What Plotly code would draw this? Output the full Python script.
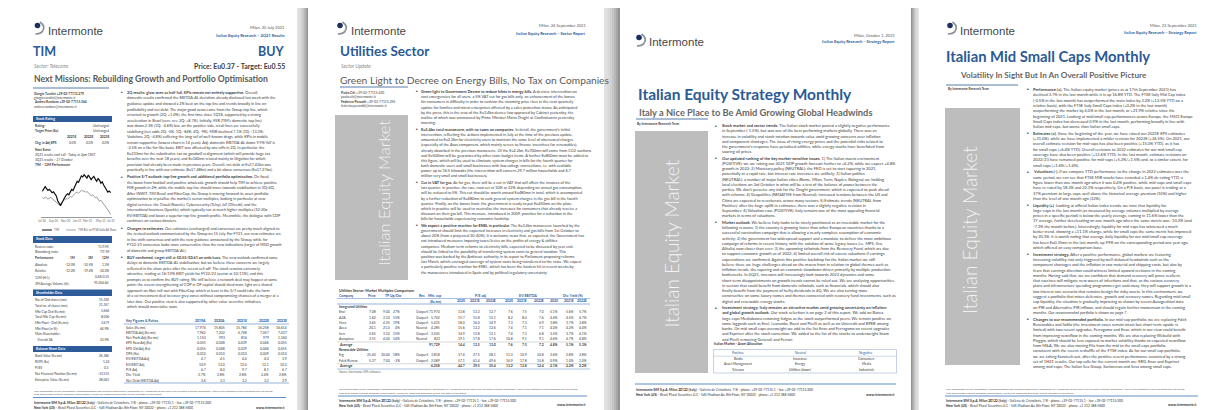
import plotly.graph_objects as go

W, H = 1215, 410
BG = "#e2e2e2"
BLUE = "#2b5a96"
DARK = "#3a3a3a"
SIDEBAR = "#bdbdbd"
HEAD = "Lato, 'Open Sans', sans-serif"
BODY = "Lato, 'Liberation Sans', sans-serif"
LOGO = "'Liberation Sans', Arial, sans-serif"

# ---------------- data: page 1 (TIM) ----------------
perf_weeks = list(range(50))
tim_price = [0.395, 0.405, 0.412, 0.405, 0.398, 0.402, 0.396, 0.390, 0.393, 0.385,
             0.378, 0.360, 0.350, 0.342, 0.352, 0.365, 0.372, 0.380, 0.386, 0.382,
             0.395, 0.402, 0.398, 0.410, 0.420, 0.432, 0.428, 0.440, 0.452, 0.448,
             0.456, 0.450, 0.444, 0.455, 0.448, 0.438, 0.445, 0.450, 0.440, 0.432,
             0.442, 0.436, 0.425, 0.430, 0.418, 0.410, 0.402, 0.392, 0.396, 0.390]
tim_rel = [0.372, 0.368, 0.374, 0.370, 0.366, 0.370, 0.372, 0.368, 0.364, 0.360,
           0.356, 0.350, 0.346, 0.350, 0.356, 0.360, 0.364, 0.368, 0.366, 0.370,
           0.376, 0.374, 0.378, 0.384, 0.390, 0.392, 0.388, 0.394, 0.398, 0.396,
           0.396, 0.392, 0.394, 0.390, 0.384, 0.378, 0.382, 0.378, 0.372, 0.374,
           0.364, 0.358, 0.362, 0.356, 0.350, 0.342, 0.334, 0.326, 0.318, 0.310]
perf_tick_pos = [0, 8, 17, 25, 33, 42, 49]
perf_tick_labels = ["Jul-20", "Sep-20", "Nov-20", "Jan-21", "Mar-21", "May-21", "Jul-21"]
perf_legend = ["TIM", "TIM Rel. to FTSE Italia All Share"]

stock_rating = [("Rating:", "Unchanged"), ("Target Price (Eu):", "Unchanged")]
eps_years = ["2021E", "2022E", "2023E"]
eps_chg = ["0.0%", "0.0%", "0.0%"]
stock_codes = [("Reuters code:", "TLIT.MI"), ("Bloomberg code:", "TIT IM")]
perf_cols = ["1M", "3M", "12M"]
perf_rows = [("Absolute", ["-12.0%", "-10.5%", "1.3%"]),
             ("Relative", ["-12.0%", "-19.4%", "-24.0%"])]
stock_misc = [("12M (H/L)", "0.48/0.35"), ("3M Average Volume (th):", "95,054.60")]
shareholder = [("No. of Ord shares (mn):", "15,330"), ("Total no. of shares (mn):", "21,357"),
               ("Mkt Cap Ord (Eu mn):", "5,666"), ("Total Mkt Cap (Eu mn):", "8,006"),
               ("Mkt Float - Ord (Eu mn):", "3,679"), ("Mkt Float (in %):", "64.9%"),
               ("Main Shareholder:", ""), ("   Vivendi SA", "23.9%")]
balance = [("Book Value (Eu mn)", "26,386"), ("BVPS (Eu)", "1.24"), ("P/BV", "0.3"),
           ("Net Financial Position (Eu mn)", "-23,515"), ("Enterprise Value (Eu mn)", "28,063")]
kf_years = ["2019A", "2020A", "2021E", "2022E", "2023E"]
kf_rows = [("Sales (Eu mn)", ["17,974", "15,805", "15,784", "16,258", "16,614"]),
           ("EBITDA Adj (Eu mn)", ["7,962", "7,202", "6,748", "7,057", "7,437"]),
           ("Net Profit Adj (Eu mn)", ["1,150", "993", "816", "979", "1,160"]),
           ("EPS New Adj (Eu)", ["0.055", "0.048", "0.039", "0.046", "0.055"]),
           ("EPS Old Adj (Eu)", ["0.055", "0.048", "0.039", "0.046", "0.055"]),
           ("DPS (Eu)", ["0.010", "0.010", "0.010", "0.009", "0.010"]),
           ("EV/EBITDA Adj", ["4.7", "4.5", "4.4", "4.0", "3.9"]),
           ("EV/EBIT Adj", ["10.9", "13.0", "12.0", "12.1", "10.2"]),
           ("P/E Adj", ["6.7", "8.0", "9.7", "8.1", "6.7"]),
           ("Div. Yield", ["2.7%", "2.8%", "2.8%", "2.4%", "2.8%"]),
           ("Net Debt/EBITDA Adj", ["3.6", "3.3", "3.2", "3.2", "2.9"])]

# ---------------- data: page 2 (Utilities) ----------------
util_years = ["2020", "2021E", "2022E"]
util_integrated = [
    ["Enel", "7.08", "9.00", "27%", "Outperf.", "71,970", "13.8", "13.3", "12.7", "7.6", "7.5", "7.0", "5.1%", "5.6%", "5.7%"],
    ["A2A", "1.82", "2.10", "15%", "Outperf.", "5,702", "15.7", "15.8", "15.1", "8.2", "8.0", "7.6", "4.4%", "4.5%", "4.7%"],
    ["Hera", "3.65", "4.35", "19%", "Outperf.", "5,435", "18.0", "16.0", "14.9", "7.3", "7.3", "6.9", "3.8%", "3.7%", "3.8%"],
    ["Acea", "20.1", "21.0", "4%", "Neutral", "4,285", "15.6", "13.2", "12.6", "7.4", "7.1", "7.1", "4.0%", "4.2%", "4.4%"],
    ["Iren", "2.65", "3.10", "15%", "Outperf.", "3,505", "14.9", "13.8", "12.1", "7.4", "7.3", "6.8", "3.5%", "3.7%", "4.1%"],
    ["Ascopiave", "3.51", "4.00", "14%", "Neutral", "823", "19.1", "17.8", "17.6", "10.8", "9.1", "9.1", "4.6%", "4.7%", "4.8%"],
]
util_int_avg = ["Average", "", "", "", "", "91,729", "14.4", "13.5", "13.0", "7.6", "7.5", "7.2", "4.8%", "5.1%", "5.3%"]
util_renew = [
    ["Erg", "25.40", "30.00", "18%", "Outperf.", "3,818", "37.4", "27.5", "28.1", "11.3", "10.9", "10.8", "2.6%", "2.8%", "2.8%"],
    ["Falck Renew.", "5.37", "7.00", "-2%", "Outperf.", "2,089", "57.1", "61.4", "49.6", "16.9", "17.8", "15.8", "0.9%", "1.0%", "1.0%"],
]
util_ren_avg = ["Average", "", "", "", "", "6,258", "44.7", "39.5", "35.4", "13.2", "13.8", "12.4", "2.1%", "2.2%", "2.2%"]

# ---------------- data: page 3 (Strategy) ----------------
alloc_heads = ["Positive", "Neutral", "Negative"]
alloc_rows = [("Banks", "Insurance", "Consumers"),
              ("Asset Management", "Energy", "Media"),
              ("Telecom", "Utilities (down)", "Industrials")]

# ---------------- body texts ----------------
p1_paras = [
    ("2Q results: glass seen as half-full, KPIs remain not entirely supportive.",
     "Overall, domestic results confirmed the EBITDA-AL deviation already disclosed last week with the guidance update and showed a 2% beat on the top line and trends broadly in line on profitability and net debt. The major good news came from the Group top line, which returned to growth (2Q: +1.0%), the first time since 1Q18, supported by a strong acceleration in Brazil (serv. rev. 2Q: +8.7%). Initially, FSR (TIM's domestic top line) was down 2.3% (1Q: -4.6%) but, on the positive side, retail lines are successfully stabilising (net adds 2Q: -5K; 1Q: -84K; 4Q: -9K). MSR declined 7.1% (1Q: -13.3%; Vodafone 2Q: -4.8%) suffering the long tail of well-known drags, while KPIs in mobile remain supportive (lowest churn in 14 years). Adj. domestic EBITDA-AL down 9.9% YoY is -2.5% on a like-for-like basis. EBIT was affected by one-offs in 2Q. In particular, the Eu233mn for the substitutive tax on goodwill realignment (which will provide huge tax benefits over the next 18 years), and Eu140mn related mainly to litigation for which provision had already been made in previous years. Overall, net debt at Eu17.42bn was practically in line with our estimate (Eu17.48bn) and a bit above consensus (Eu17.27bn)."),
    ("Positive S/T outlook: top-line growth and additional portfolio optimisation.",
     "On fixed, the boost from football and positive wholesale growth should help TIM to achieve positive FSR growth in 2H, while the mobile top line should move towards stabilisation in 3Q/4Q. After INWIT, TIM Brasil and FiberCop, the Group is moving forward its asset portfolio optimisation to crystallise the market's sector multiples, looking in particular at new digital services: the Cloud (Noovle), Cybersecurity (Telsy), IoT (Olivetti), and the international business (Sparkle), which typically run at much higher multiples (10-20x EV/EBITDA) and boast a superior top-line growth profile. Meanwhile, the dialogue with CDP continues on various dossiers."),
    ("Changes to estimates.",
     "Our estimates (unchanged) and consensus are pretty much aligned to the revised outlook communicated by the Group on 15 July. For FY21, our new estimates are in line with consensus and with the new guidance announced by the Group, while for FY22-23 consensus looks more conservative than the new indications (target of MSD growth of domestic and group EBITDA-AL)."),
    ("BUY confirmed, target still at €0.55/€0.61 on ords/savs.",
     "The new outlook confirmed some delays to domestic EBITDA-AL stabilisation, but we believe these concerns are largely reflected in the share price after the recent sell-off. The stock remains extremely attractive, trading at 16/19% EBIT yields for FY22/23 (sector at 10/11%), and this prompts us to confirm the BUY rating. We still believe a network deal may happen at some point: the recent strengthening of CDP in OF capital should shed more light on a shared approach on fibre roll-out with FiberCop, which at least in the S/T could take the form of a co-investment deal to cover grey zones without compromising chances of a merger at a later date. Our positive view is also supported by other value-accretive initiatives which should materialise soon."),
]
p2_paras = [
    ("Green light to Government Decree to reduce hikes in energy bills.",
     "A decisive intervention on cost emergencies for all users, a 5% VAT cut for gas bills only, an enhancement of the bonus for consumers in difficulty in order to cushion the incoming price rises in the next quarterly update for families and micro-enterprises affected by a sales protection status. As anticipated by the press, this is the crux of the Eu3.4bn decree-law approved by Cabinet yesterday, the outline of which was announced by Prime Minister Mario Draghi at Confindustria yesterday morning."),
    ("Eu3.4bn total manoeuvre, with no taxes on companies.",
     "In detail, the government's initial intervention, reflecting the actions implemented in July at the time of the previous update, amounted to Eu2.2bn for electricity users to maintain the same level of attenuated charges (especially of the Asos component, which mainly serves to finance incentives for renewables), already absorbed in the previous manoeuvre. Of the Eu2.2bn, Eu700mn will come from CO2 auctions and Eu500mn will be guaranteed by other state budget items. A further Eu800mn must be added to this figure, which will be used to eliminate system charges in bills for the fourth quarter for both domestic users and small businesses with low voltage connections, i.e. with available power up to 16.5 kilowatts (the intervention will concern 29.7 million households and 6.7 million very small and small businesses)."),
    ("Cut in VAT for gas.",
     "As for gas, there will be a cut in VAT that will affect the invoices of the last quarter: in practice, the rate, now set at 10% or 22% depending on annual gas consumption, will be reduced to 5%. This cut should be worth around Eu480mn in total, which is accompanied by a further reduction of Eu480mn to curb general system charges in the gas bill in the fourth quarter. Finally, on the bonus front, the government is ready to put Eu450mn on the plate, which in practice will be used to neutralise the increases for consumers that already receive a discount on their gas bill. This measure, introduced in 2009, provides for a reduction in the bills for households experiencing economic hardship."),
    ("We expect a positive reaction for ENEL in particular.",
     "The Eu3.4bn manoeuvre launched by the government should limit the expected increases in electricity and gas bills from 1st October to about 20% (from a projected 30-40%). It is welcome news that, as expected, the Government has not introduced measures imposing taxes/levies on the profits of energy &amp; utilities companies. Medium-term reforms to electricity bills, expected to be discussed by year end, should be linked to the possibility of transferring system costs to general taxation. This position was backed by the Antitrust authority in its report to Parliament proposing reforms last March, which envisaged coverage of system costs being transferred to the state. We expect a particularly positive reaction for ENEL, which has been the hardest hit in recent weeks by the manoeuvres introduced in Spain and by political/regulatory uncertainty."),
]
p3_paras = [
    ("Stock market and sector trends.",
     "The Italian stock market posted a slightly negative performance in September (-1.5%), but was one of the best performing markets globally. There was an increase in volatility and stock rotation towards value amid growing concerns over inflation and component shortages. The issue of rising energy prices and the potential risks related to the government's response have penalised utilities, while energy stocks have benefitted from soaring oil prices."),
    ("Our updated ranking of the key market-sensitive issues.",
     "1) The Italian macro environment (POSITIVE): we are raising our 2021 GDP growth forecast further to +6.2%, while we expect +4.8% growth in 2022; 2) Monetary policy (NEUTRAL): the FED is set to start tapering in 2021, potentially at a rapid rate, but interest rate increases are unlikely; 3) Italian politics (NEUTRAL): a number of major Italian cities (Rome, Milan, Turin, Naples, Bologna) are holding local elections on 3rd October in what will be a test of the balance of power between the parties. We don't perceive any risk for the Draghi government, which is expected to push ahead with reforms; 4) Geopolitics (NEGATIVE from Neutral): increased tensions between the US and China are expected to reverberate across many sectors; 5) Estimate trends (NEUTRAL from Positive): after the huge uplift in estimates, there was a slightly negative revision in September; 6) Valuation case (POSITIVE): Italy remains one of the most appealing financial markets in terms of valuations."),
    ("Market outlook.",
     "We believe Italy looks to be nicely positioned as an investable market for the following reasons: 1) the country is growing faster than other European countries thanks to a successful vaccination campaign that is allowing a nearly complete resumption of economic activity; 2) the government has widespread support and a mandate to deliver the most ambitious campaign of reforms in recent history, with the solution of some legacy issues (i.e. MPS, Ilva, Alitalia) now closer than ever; 3) the upcoming tailwinds from the Recovery Fund, which are due to support economic growth as of 2022; 4) limited overall risk of excess valuations if earnings expectations are confirmed. Against this positive backdrop for the Italian market we still believe there are huge challenges ahead on the macro front in relation to global themes such as inflation trends, the tapering and an economic slowdown driven primarily by multiple production bottlenecks. In 4Q21, investors will increasingly look towards 2022 dynamics and some short-term disappointments on growth trends cannot be ruled out. We are analysing opportunities in sectors that could benefit from domestic tailwinds, such as financials, which should also finally benefit from the payment of hefty dividends in 4Q. We are also turning more constructive on some luxury names and themes connected with recovery fund investments, such as digital and renewable energy stocks."),
    ("Investment strategy: Italy remains an attractive market amid growing uncertainty on inflation and global growth outlook.",
     "Our stock selection is on page 2 of this report. We add on Banca large caps Mediobanca removing Italgas as the stock outperformed peers. We remain positive on some laggards such as Enel, Leonardo, Buzzi and Pirelli as well as on Unicredit and BPER among banks. On mid small caps overweight we add to the list Enav and Ferragamo on recent upgrades and Esprinet after the stock correction. We added to the list of the stocks to underweight Snam and Pirelli removing Generali and Ferrari."),
]
p4_paras = [
    ("Performance (=).",
     "The Italian equity market (prices as at 17th September 2021) has declined 3.7% in the last month while it is up 16.8% YTD. The FTSE Italy Mid Cap index (-0.5% in the last month) has outperformed the main index by 3.2% (+12.5% YTD on a relative basis), with the FTSE Italy Small Caps index (+0.2% in the last month) outperforming the market by 4.0% in the last month, or +21.9% relative since the beginning of 2021. Looking at mid/small cap performances across Europe, the MSCI Europe Small Caps index has decreased 0.9% in the last month, performing broadly in line with Italian mid-caps, but worse than Italian small caps."),
    ("Estimates (=).",
     "Since the beginning of the year, we have raised our 2021E EPS estimates (+31.0%), while we have implemented a milder revision for 2022E (+26.5%). On 2021, our overall estimate revision for mid-caps has also been positive (+15.0% YTD), as it has for small caps (+6.4% YTD). Overall revisions to 2022 estimates for our mid/small cap coverage have also been positive (+12.6% YTD). In the last month, estimate revisions on 2022/23 have remained positive for mid-caps (+5.2%/+1.5%) and, to a similar extent, for small caps (+1.6%/+1.4%)."),
    ("Valuations (-).",
     "If we compare YTD performance to the change in 2022 estimates over the same period, we can see that FTSE MIB stocks have recorded a 1.4% de-rating YTD, a figure lower than one month ago when it was 0.4% positive, while mid-caps and small caps have re-rated by 18.3% and 22.3% respectively. On a P/E basis, our panel is trading at a 37% premium to large caps, well above the historical average premium (10%) and higher than the level of one month ago (32%)."),
    ("Liquidity (+).",
     "Looking at official Italian index trends, we note that liquidity for large-caps in the last month (as measured by average volumes multiplied by average prices in a specific period) is below the yearly average, coming in 11.6% lower than the 1Y average, further decelerating on one month ago when the same metric was -10.2% (and -7.3% the month before). Interestingly, liquidity for mid-caps has witnessed a much better trend, showing a +11.1% change, while for small caps the same metric has improved by 20.3%. It is worth noting that average daily liquidity for our mid/small cap coverage has been Eu0.35mn in the last month, up 99% on the corresponding period one year ago, which offered an easy comparison base."),
    ("Investment strategy.",
     "After a positive performance, global markets are featuring increasing volatility, not only triggered by well-debated headwinds such as the component shortages and the inflation in raw material and shipping costs, but also by fears that earnings direction could witness limited upward revisions in the coming months. Having said that, we are confident that demand recovery will prove resilient, that vaccines will mitigate new waves of infections and that, as the various recovery plans and infrastructure spending programmes get underway, they will support growth in a low interest rate scenario that remains benign for risky assets. In this environment, we suggest a portfolio that mixes defensive, growth and recovery names. Regarding mid/small cap liquidity, the situation is gradually improving as shown by recent Assogestioni data on PIR and Alternative PIR inflows, and should regain further momentum in the coming months. <i>Our recommended portfolio is shown on page 7.</i>"),
    ("Changes to our recommended portfolio.",
     "In our mid-cap portfolio, we are replacing Falck Renewables and Safilo (the investment cases remain intact but short-term upside is limited) with two recent upgrades, Ferragamo and Enav, which in our view could benefit from improving newsflow in the coming months. We are also replacing Webuild with Piaggio, which should be less exposed to market volatility thanks to expected newsflow from M&amp;A. We are also moving Fila from the mid to the small caps portfolio, consistent with the recent reshuffle of the FTSE index. As for our small cap portfolio, we are taking Eurotech out, after the positive recent performance sustained by a strong set of 1H21 results. Our top calls for the current month are: ERG, Enav and Esprinet among mid-caps; The Italian Sea Group, Sanlorenzo and Sesa among small caps."),
]

footer1 = "<b>Intermonte SIM S.p.A. Milan 20122 (Italy)</b> - Galleria de Cristoforis, 7/8 - phone: +39-02-77115.1 - fax: +39-02-77115.300"
footer2 = "<b>New York (US)</b> - Brasil Plural Securities LLC - 545 Madison Av. 8th Floor, NY 10022 - phone: +1 212 388 5600"
disclaimer1 = "The reproduction of the information, recommendations and research produced by Intermonte SIM contained herein and of any its parts is strictly prohibited. None of the contents of this document may be shared"
disclaimer2 = "with third parties without Company authorisation. Please see important disclaimer on the last page of this report"

# ---------------- helpers (page layout in pixels -> paper) ----------------
shapes, annos = [], []


def px(x):
    return x / W


def py(y):
    return 1 - y / H


ANCH = {"right": "left", "left": "right", "center": "center"}


def txt(x, y, s, size=4.0, color=DARK, pos="right", fam=BODY):
    annos.append(dict(xref="paper", yref="paper", x=px(x), y=py(y), text=s, showarrow=False,
                      xanchor=ANCH[pos], yanchor="middle", borderpad=0,
                      font=dict(size=size, color=color, family=fam)))


def rect(x0, y0, x1, y1, fill, line=None, lw=0):
    shapes.append(dict(type="rect", xref="paper", yref="paper", x0=px(x0), y0=py(y0), x1=px(x1), y1=py(y1),
                       fillcolor=fill, line=dict(color=line or fill, width=lw), layer="below"))


def hline(x0, x1, y, color=BLUE, w=0.8):
    shapes.append(dict(type="line", xref="paper", yref="paper", x0=px(x0), x1=px(x1), y0=py(y), y1=py(y),
                       line=dict(color=color, width=w), layer="below"))


def wrap(bold, rest, width):
    words = [(w, 1) for w in bold.split()] + [(w, 0) for w in rest.split()]
    lines, cur, n = [], [], 0
    for w, b in words:
        add = len(w) + (1 if cur else 0)
        if cur and n + add > width:
            lines.append(cur)
            cur, n, add = [], 0, len(w)
        cur.append((w, b))
        n += add
    if cur:
        lines.append(cur)
    out = []
    for ln in lines:
        s, i = "", 0
        while i < len(ln):
            j = i
            while j < len(ln) and ln[j][1] == ln[i][1]:
                j += 1
            chunk = " ".join(w for w, _ in ln[i:j])
            s += (" " if s else "") + (f"<b>{chunk}</b>" if ln[i][1] else chunk)
            i = j
        out.append(s)
    return out


def fix_italic(lines):
    out, open_i = [], False
    for ln in lines:
        s = ("<i>" if open_i else "") + ln
        if s.count("<i>") > s.count("</i>"):
            s += "</i>"
            open_i = True
        else:
            open_i = False
        out.append(s)
    return out


def body(paras, xb, xt, y0, width, ls, gap, size):
    y = y0
    for bold, rest in paras:
        txt(xb, y, "■", size=size * 0.7, color="#4a4a4a")
        for ln in fix_italic(wrap(bold, rest, width)):
            txt(xt, y, ln, size=size)
            y += ls
        y += gap
    return y


def logo(cx, cy, tx, ty):
    shapes.append(dict(type="circle", xref="paper", yref="paper", x0=px(cx - 2.8), x1=px(cx + 2.8),
                       y0=py(cy + 2.8), y1=py(cy - 2.8), fillcolor="#1c2f5e", line=dict(width=0), layer="below"))
    pts = [(cx + 2.5, cy - 3.6), (cx + 9, cy + 1), (cx + 4.5, cy + 6.5), (cx + 1.5, cy + 9), (cx - 2, cy + 8.3)]
    q = [f"{px(a):.6f},{py(b):.6f}" for a, b in pts]
    shapes.append(dict(type="path", xref="paper", yref="paper",
                       path=f"M {q[0]} Q {q[1]} {q[2]} Q {q[3]} {q[4]}",
                       line=dict(color="#8d939c", width=1.8), layer="below"))
    txt(tx, ty, "Intermonte", size=11.5, color="#474747", fam=LOGO)


def header(xr, y1, y2, date, kind):
    txt(xr, y1, date, size=4.0, color="#555555", pos="left")
    txt(xr, y2, f"<b>Italian Equity Research – {kind}</b>", size=4.0, color=BLUE, pos="left")


def footer(x0, x1, yline, ya, yb, disc=True):
    if disc:
        txt(x0, yline - 7, disclaimer1, size=2.6, color="#555555")
        txt(x0, yline - 3.4, disclaimer2, size=2.6, color="#555555")
    hline(x0, x1, yline, color="#4f81bd", w=0.9)
    txt(x0, ya, footer1, size=3.3, color="#333333")
    txt(x0, yb, footer2, size=3.3, color="#333333")
    txt(x1, yb, "<b>www.intermonte.it</b>", size=3.4, color="#333333", pos="left")


def sidebar(x0, x1, y0, y1, size, yc):
    rect(x0, y0, x1, y1, SIDEBAR)
    annos.append(dict(xref="paper", yref="paper", x=px((x0 + x1) / 2), y=py(yc),
                      text="Italian Equity Market", textangle=-90, showarrow=False,
                      font=dict(family=HEAD, size=size, color="rgba(255,255,255,0.82)", weight=300)))


# ---------------- background, pages, shadows ----------------
pages = [(0, 289), (300, 596), (612, 903), (911, 1207)]
gaps = [(289, 300, "right"), (596, 612, "right"), (903, 911, "left"), (1207, 1215, "left")]
for g0, g1, dark_side in gaps:
    n = 8
    step = (g1 - g0) / n
    for k in range(n):
        t = (k + 0.5) / n
        d = t if dark_side == "right" else 1 - t
        c = int(226 - 90 * d ** 2)
        rect(g0 + k * step, 0, g0 + (k + 1) * step + 0.2, H, f"rgb({c},{c},{c})")
for p0, p1 in pages:
    rect(p0, 0, p1, H, "#ffffff")

# ================= PAGE 1 : TIM =================
logo(29.5, 17.5, 39, 22.5)
header(278, 19, 27, "Milan, 20 July 2021", "2Q21 Results")
txt(24, 44, "<b>TIM</b>", size=12.5, color=BLUE, fam=HEAD)
txt(278, 44, "<b>BUY</b>", size=12.5, color=BLUE, pos="left", fam=HEAD)
txt(25, 58, "<i>Sector: Telecoms</i>", size=5, color="#8a8a8a", fam=HEAD)
txt(278, 58, "<b>Price: Eu0.37 - Target: Eu0.55</b>", size=7, color="#404040", pos="left", fam=HEAD)
txt(25, 71, "<b>Next Missions: Rebuilding Growth and Portfolio Optimisation</b>", size=8.6, color="#5a5a5a", fam=HEAD)
hline(25, 101, 80)
for i, s in enumerate(["<b>Giorgio Tavolini +39-02-77115.279</b>", "giorgio.tavolini@intermonte.it",
                       "<b>Andrea Randone +39-02-77115.364</b>", "andrea.randone@intermonte.it"]):
    txt(25, 86 + 4.2 * i, s, size=3.2, color="#404040")

SM = 3.2
L0, R0 = 26, 102


def bar(y0, y1, title):
    rect(25, y0, 104, y1, "#2e5c9a")
    txt(26.5, (y0 + y1) / 2, f"<b>{title}</b>", size=3.4, color="#ffffff")


bar(108, 114, "Stock Rating")
for i, (k, v) in enumerate(stock_rating):
    txt(L0, 117.5 + 5 * i, f"<b>{k}</b>", size=SM)
    txt(R0, 117.5 + 5 * i, v, size=SM, pos="left")
for j, yr in enumerate(eps_years):
    txt([69, 86, 102][j], 129, f"<b>{yr}</b>", size=SM, pos="left")
    txt([69, 86, 102][j], 134.5, eps_chg[j], size=SM, pos="left")
txt(L0, 134.5, "<b>Chg. in Adj EPS</b>", size=SM)
txt(L0, 142, "<b>Next Event</b>", size=SM)
txt(L0, 147, "2Q21 results conf call - Today at 2pm CEST", size=SM)
txt(L0, 152, "3Q21 results – 27 October", size=SM)
txt(L0, 157, "<b>TIM – 12M Performance</b>", size=SM)

# legend of the small chart
hline(34, 44, 222, color="#111111", w=1)
txt(45, 222, perf_legend[0], size=2.8, color="#555555")
hline(58, 68, 222, color="#a6a6a6", w=1)
txt(69, 222, perf_legend[1], size=2.8, color="#555555")

bar(228, 235, "Stock Data")
for (k, v), y in zip(stock_codes, [239, 244]):
    txt(L0, y, k, size=SM)
    txt(R0, y, v, size=SM, pos="left")
txt(L0, 250, "<b>Performance</b>", size=SM)
for j, c in enumerate(perf_cols):
    txt([68, 86, 102][j], 250, f"<b>{c}</b>", size=SM, pos="left")
for (k, vals), y in zip(perf_rows, [257, 263]):
    txt(L0, y, k, size=SM)
    for j, v in enumerate(vals):
        txt([68, 86, 102][j], y, v, size=SM, pos="left")
for (k, v), y in zip(stock_misc, [269, 275]):
    txt(L0, y, k, size=SM)
    txt(R0, y, v, size=SM, pos="left")
bar(281.5, 288, "Shareholder Data")
for i, (k, v) in enumerate(shareholder):
    y = 291.5 + 5.8 * i
    txt(L0, y, k, size=SM)
    txt(R0, y, v, size=SM, pos="left")
bar(338, 344, "Balance Sheet Data")
for i, (k, v) in enumerate(balance):
    y = 347.5 + 6.1 * i
    txt(L0, y, k, size=SM)
    txt(R0, y, v, size=SM, pos="left")

body(p1_paras, 112, 117.5, 84.5, 89, 5.5, 1.8, 3.8)

# key figures table
kx = [199, 218, 240, 262, 280]
txt(117, 313, "<b>Key Figures &amp; Ratios</b>", size=3.5, color=BLUE)
for j, yv in enumerate(kf_years):
    txt(kx[j], 313, f"<b>{yv}</b>", size=3.5, color=BLUE, pos="left")
hline(116, 281, 316, color="#4f81bd", w=0.6)
for i, (k, vals) in enumerate(kf_rows):
    y = 319.5 + 5.3 * i
    txt(117, y, k, size=3.4)
    for j, v in enumerate(vals):
        txt(kx[j], y, v, size=3.4, pos="left")
hline(116, 281, 375, color="#4f81bd", w=0.6)
footer(25, 278, 389.5, 394.5, 399.5)

# ================= PAGE 2 : Utilities =================
logo(332, 17.5, 342, 22.5)
header(579, 17.5, 25, "Milan, 24 September 2021", "Sector Report")
txt(331, 43.5, "<b>Utilities Sector</b>", size=13.5, color=BLUE, fam=HEAD)
txt(332, 57.5, "<i>Sector Update</i>", size=5, color="#8a8a8a", fam=HEAD)
txt(331, 72, "Green Light to Decree on Energy Bills, No Tax on Companies", size=10.2, color="#5a5a5a", fam=HEAD)
hline(332, 400, 79)
for i, s in enumerate(["<b>Paolo Citi</b> +39-02-77115.430", "paolo.citi@intermonte.it",
                       "<b>Federico Pezzotti</b> +39-02-77115.296", "federico.pezzotti@intermonte.it"]):
    txt(332, 85 + 4.3 * i, s, size=3.3, color="#404040")
sidebar(327, 400, 107, 272, 16.5, 185)
body(p2_paras, 406.5, 412, 83.5, 95, 5.2, 1.3, 3.85)

# utilities table
TS = 3.4
ux_right = [369, 383, 393, None, 433, 458, 473, 489, 506, 520, 537, 551, 567, 580]
txt(330, 282.5, "<b>Utilities Sector: Market Multiples Comparison</b>", size=3.7, color="#333333")
heads = [("Company", 330, "right"), ("Price", 369, "left"), ("TP", 383, "left"), ("Up/Dw", 395, "left"),
         ("Rec.", 419, "left"), ("Mkt. cap", 434, "left"), ("P/E adj.", 473, "center"),
         ("EV/EBITDA", 520, "center"), ("Div. Yield (%)", 565, "center")]
for s, x, p in heads:
    txt(x, 287.8, f"<b>{s}</b>", size=TS, color=BLUE, pos=p)
hline(329, 582, 290.5, color="#4f81bd", w=0.5)
txt(434, 293.2, "<b>(Eu mn)</b>", size=TS, color=BLUE, pos="left")
for blk in range(3):
    for j, yv in enumerate(util_years):
        txt(ux_right[5 + blk * 3 + j], 293.2, f"<b>{yv}</b>", size=TS, color=BLUE, pos="left")
hline(329, 582, 296, color="#4f81bd", w=0.6)


def util_row(row, y, bold=False):
    f = (lambda s: f"<b>{s}</b>") if bold else (lambda s: s)
    txt(330, y, f(row[0]), size=TS)
    for j, v in enumerate(row[1:]):
        if not v:
            continue
        if j == 3:
            txt(407, y, f(v), size=TS)
        else:
            txt(ux_right[j], y, f(v), size=TS, pos="left")


txt(330, 299, "<b>Integrated Utilities</b>", size=TS)
for i, r in enumerate(util_integrated):
    util_row(r, 304.3 + 5.35 * i)
util_row(util_int_avg, 336.5, bold=True)
hline(329, 582, 334, color="#999999", w=0.4)
txt(330, 342, "<b>Renewable Utilities</b>", size=TS)
for i, r in enumerate(util_renew):
    util_row(r, 347.3 + 5.4 * i)
util_row(util_ren_avg, 358.3, bold=True)
hline(329, 582, 355.8, color="#999999", w=0.4)
hline(329, 582, 361, color="#4f81bd", w=0.5)
txt(330, 364, "Source: Intermonte SIM estimates", size=2.8, color="#666666")
footer(330, 579, 388, 392, 397)

# ================= PAGE 3 : Strategy Monthly =================
logo(631, 29.5, 640, 34.5)
header(888, 27, 33.5, "Milan, October 1, 2021", "Strategy Report")
txt(629, 86, "<b>Italian Equity Strategy Monthly</b>", size=15.5, color=BLUE, fam=HEAD)
txt(630, 104, "<b>Italy a Nice Place to Be Amid Growing Global Headwinds</b>", size=9.3, color="#666666", fam=HEAD)
hline(628, 700, 111)
txt(628, 116, "<b>By Intermonte Research Team</b>", size=3.2, color="#404040")
sidebar(627, 700, 123, 365, 19, 236)
body(p3_paras, 706, 712.5, 117.5, 95, 5.25, 1.2, 4.0)

txt(705, 336, "<b>Italian Market - Asset Allocation</b>", size=3.4, color="#333333")
rect(705.5, 341.5, 888.5, 365, "rgba(0,0,0,0)", line="#9db3d0", lw=0.6)
hline(705.5, 888.5, 348.2, color="#9db3d0", w=0.5)
acx = [730, 792, 858]
for j, h in enumerate(alloc_heads):
    txt(acx[j], 345, h, size=3.4, color=BLUE, pos="center")
for i, row in enumerate(alloc_rows):
    for j, v in enumerate(row):
        txt(acx[j], 351.3 + 5.1 * i, v, size=3.3, color="#333333", pos="center")
footer(627, 888, 376, 381.5, 386.5, disc=False)

# ================= PAGE 4 : Mid Small Caps =================
logo(942, 17.5, 951, 22.5)
header(1190, 17, 24.5, "Milan, 23 September 2021", "Strategy Report")
txt(937, 48, "<b>Italian Mid Small Caps Monthly</b>", size=14.8, color=BLUE, fam=HEAD)
txt(951, 67, "<b>Volatility In Sight But In An Overall Positive Picture</b>", size=8.2, color="#666666", fam=HEAD)
hline(938, 1010, 77)
txt(939, 81.5, "<b>By Intermonte Research Team</b>", size=3.1, color="#404040")
sidebar(937, 1012, 100, 357, 19, 222)
body(p4_paras, 1018, 1023.5, 81.5, 88, 5.3, 1.4, 4.0)
footer(937, 1190, 388, 392.5, 397)

# ---------------- TIM 12M chart: the only cartesian subplot ----------------
# tick labels placed on the chart's own x scale (xref="x")
for pos_, lab in zip(perf_tick_pos, perf_tick_labels):
    annos.append(dict(xref="x", yref="paper", x=pos_, y=py(213), text=lab, showarrow=False,
                      xanchor="center", yanchor="middle", borderpad=0,
                      font=dict(size=2.8, color="#666666", family=BODY)))

fig = go.Figure()
fig.add_trace(go.Scatter(x=perf_weeks, y=tim_rel, mode="lines", line=dict(color="#9c9c9c", width=1.0),
                         hoverinfo="skip", name=perf_legend[1]))
fig.add_trace(go.Scatter(x=perf_weeks, y=tim_price, mode="lines", line=dict(color="#111111", width=1.2),
                         hoverinfo="skip", name=perf_legend[0]))

fig.update_layout(
    width=W, height=H, margin=dict(l=0, r=0, t=0, b=0),
    paper_bgcolor=BG, plot_bgcolor="rgba(0,0,0,0)", showlegend=False,
    xaxis=dict(domain=[px(33), px(104)], range=[-1, 50], showgrid=False, zeroline=False,
               showline=True, linecolor="#999999", linewidth=1, showticklabels=False, ticks=""),
    yaxis=dict(domain=[py(209), py(163)], range=[0.30, 0.47], showgrid=False,
               zeroline=False, showticklabels=False, showline=False, ticks=""),
    shapes=shapes, annotations=annos,
)
fig.write_html("out.html")
